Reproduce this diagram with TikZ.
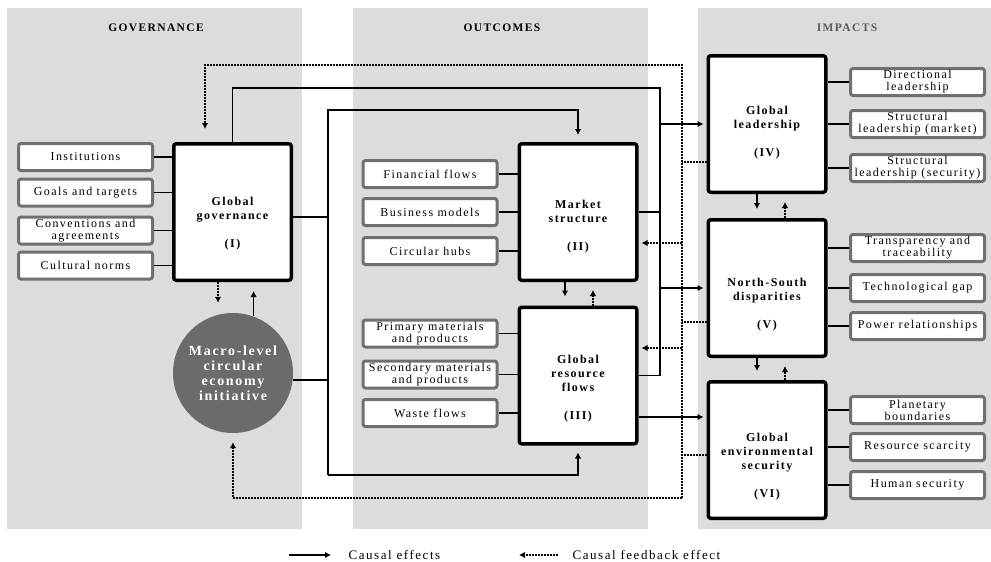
\documentclass[tikz,border=0pt]{standalone}
\usepackage{fontspec}
\setmainfont{Liberation Serif}[LetterSpace=12]
\usetikzlibrary{arrows.meta,positioning}
\definecolor{panelgray}{HTML}{DCDCDC}
\definecolor{subgray}{HTML}{707070}
\definecolor{circgray}{HTML}{6B6B6B}
\definecolor{headgray}{HTML}{5A5A5A}

\tikzset{
  panel/.style={fill=panelgray, draw=none},
  header/.style={font=\fontsize{11.5}{13}\selectfont\bfseries},
  subbox/.style={draw=subgray, line width=3pt, fill=white, rounded corners=2.5pt,
    minimum width=134pt, minimum height=27pt, inner sep=1pt, align=center,
    font=\fontsize{12}{12}\selectfont},
  mainbox/.style={draw=black, line width=3.5pt, fill=white, rounded corners=2.5pt,
    minimum width=117.5pt, minimum height=136.5pt},
  boxtext/.style={align=center, font=\fontsize{12}{14}\selectfont\bfseries},
  legtext/.style={font=\fontsize{13}{14}\selectfont, anchor=west},
  link/.style={line width=1.8pt},
  feed/.style={line width=1.8pt, dash pattern=on 1.6pt off 1.4pt}
}

\begin{document}
\begin{tikzpicture}[x=1pt, y=-1pt, >={Latex[length=6pt,width=6.5pt]}]
  \useasboundingbox (0,0) rectangle (991,562);

  % columns
  \fill[panel] (7,8) rectangle (302,529);
  \fill[panel] (353,8) rectangle (648,529);
  \fill[panel] (698,8) rectangle (991,529);
  \node[header] (gov head) at (156,28) {GOVERNANCE};
  \node[header] (out head) at (502,28) {OUTCOMES};
  \node[header, text=headgray] (imp head) at (847,28) {IMPACTS};

  % main boxes
  \node[mainbox] (gg) at (232.5,212) {};
  \node[mainbox] (market) at (578,212) {};
  \node[mainbox] (rflows) at (578,375.5) {};
  \node[mainbox] (lead) at (767,124) {};
  \node[mainbox] (nsd) at (767,288) {};
  \node[mainbox] (envsec) at (767,450) {};
  \node[boxtext] (gg text) at ([yshift=-12pt]gg.center) {Global\\governance\\[14pt](I)};
  \node[boxtext] (market text) at ([yshift=-15pt]market.center) {Market\\structure\\[14pt](II)};
  \node[boxtext] (rflows text) at ([yshift=-13pt]rflows.center) {Global\\resource\\flows\\[14pt](III)};
  \node[boxtext] (lead text) at ([yshift=-9pt]lead.center) {Global\\leadership\\[14pt](IV)};
  \node[boxtext] (nsd text) at ([yshift=-17pt]nsd.center) {North-South\\disparities\\[14pt](V)};
  \node[boxtext] (envsec text) at ([yshift=-17pt]envsec.center) {Global\\environmental\\security\\[14pt](VI)};

  \node[circle, fill=circgray, minimum size=120pt, inner sep=0pt, text=white, align=center,
    font=\fontsize{14}{15}\selectfont\bfseries] (ce) at (233,373) {Macro-level\\circular\\economy\\initiative};

  % sub boxes
  \foreach \nm/\y/\txt in {inst/157/Institutions, goals/192.5/Goals and targets,
      conv/230.5/{Conventions and\\agreements}, norms/265.5/Cultural norms} {
    \node[subbox] (\nm) at (85.5,\y) {\txt};
    \draw[link] (\nm) -- (\nm -| gg.west);
  }
  \foreach \nm/\y/\txt in {fin/174/Financial flows, biz/212/Business models,
      hubs/251/Circular hubs} {
    \node[subbox] (\nm) at (430,\y) {\txt};
    \draw[link] (\nm) -- (\nm -| market.west);
  }
  \foreach \nm/\y/\txt in {prim/333.5/{Primary materials\\and products},
      sec/374.5/{Secondary materials\\and products}, waste/413/Waste flows} {
    \node[subbox] (\nm) at (430,\y) {\txt};
    \draw[link] (\nm) -- (\nm -| rflows.west);
  }
  \foreach \nm/\y/\txt/\owner in {dir/82/{Directional\\leadership}/lead,
      smark/124/{Structural\\leadership (market)}/lead,
      ssec/168/{Structural\\leadership (security)}/lead,
      trans/248/{Transparency and\\traceability}/nsd,
      tgap/288/Technological gap/nsd,
      power/326/Power relationships/nsd,
      plan/410/{Planetary\\boundaries}/envsec,
      scarce/447/Resource scarcity/envsec,
      human/485/Human security/envsec} {
    \node[subbox] (\nm) at (917.5,\y) {\txt};
    \draw[link] (\nm) -- (\nm -| \owner.east);
  }

  % causal effects
  \coordinate (rbus top) at (660,88);
  \coordinate (lbus top) at (328,110);
  \coordinate (lbus bot) at (328,475);
  \draw[link] (gg.north) |- (rbus top) -- (rbus top |- rflows.east) -- (rflows.east);
  \draw[link] (market.east) -- (market.east -| rbus top);
  \draw[link,->,shorten >=3pt] (lead.west -| rbus top) -- (lead.west);
  \draw[link,->,shorten >=3pt] (nsd.west -| rbus top) -- (nsd.west);
  \draw[link,->,shorten >=3pt] ([yshift=-41.5pt]rflows.east) -- ([yshift=-41.5pt]rflows.east -| envsec.west);
  \draw[link] ([yshift=-5pt]gg.east) -- ([yshift=-5pt]gg.east -| lbus top);
  \draw[link] (ce.-7) -- (ce.-7 -| lbus top);
  \draw[link,->,shorten >=7pt] (lbus bot) -- (lbus top) -| (market.north);
  \draw[link,->,shorten >=7pt] (lbus bot) -| (rflows.south);
  \draw[link,->,shorten >=9pt] (ce.70) -- (ce.70 |- gg.south);

  % feedback effects
  \coordinate (fbus top) at (682,65);
  \coordinate (fbus bot) at (682,498);
  \draw[feed,->,shorten >=13pt] (fbus bot) -- (fbus top) -| ([xshift=-27.5pt]gg.north);
  \draw[feed,->,shorten >=9pt] (fbus bot) -| (ce.south);
  \draw[feed] ([yshift=-38pt]lead.west) -- ([yshift=-38pt]lead.west -| fbus top);
  \draw[feed] ([yshift=-34pt]nsd.west) -- ([yshift=-34pt]nsd.west -| fbus top);
  \draw[feed] ([yshift=-5pt]envsec.west) -- ([yshift=-5pt]envsec.west -| fbus top);
  \draw[feed,->,shorten >=3pt] ([yshift=-31pt]market.east -| fbus top) -- ([yshift=-31pt]market.east);
  \draw[feed,->,shorten >=3pt] ([yshift=27.5pt]rflows.east -| fbus top) -- ([yshift=27.5pt]rflows.east);
  \draw[feed,->,shorten >=10pt] ([xshift=-14.5pt]gg.south) -- ([xshift=-14.5pt]gg.south |- ce.north);

  \foreach \up/\dn/\sx/\fx in {market/rflows/-13/15, lead/nsd/-10/18, nsd/envsec/-10/18} {
    \draw[link,->,shorten >=9pt] ([xshift=\sx pt]\up.south) -- ([xshift=\sx pt]\up.south |- \dn.north);
    \draw[feed,->,shorten >=8pt] ([xshift=\fx pt]\dn.north) -- ([xshift=\fx pt]\dn.north |- \up.south);
  }

  % legend
  \node[legtext] (leg cause) at (345,555) {Causal effects};
  \node[legtext] (leg feed) at (569,555) {Causal feedback effect};
  \draw[link,->] ([xshift=-56pt]leg cause.west) -- ([xshift=-14pt]leg cause.west);
  \draw[feed,->] ([xshift=-11pt]leg feed.west) -- ([xshift=-50pt]leg feed.west);
\end{tikzpicture}
\end{document}
